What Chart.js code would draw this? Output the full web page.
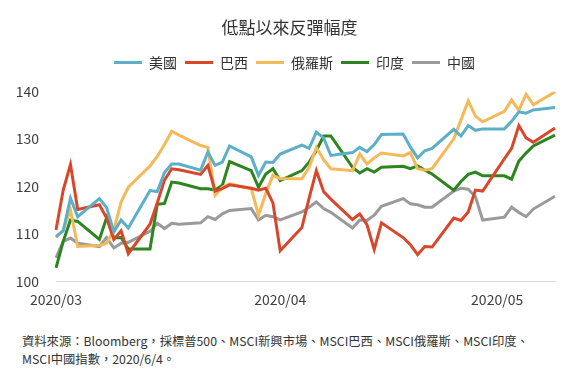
<!DOCTYPE html>
<html>
<head>
<meta charset="utf-8">
<script src="https://cdn.jsdelivr.net/npm/chart.js@4.4.0/dist/chart.umd.min.js"></script>
<style>
    body { margin: 0; background: #fff; width: 576px; height: 376px; overflow: hidden; font-family: "Noto Sans CJK TC", sans-serif; }
    #wrap { position: relative; width: 576px; height: 328px; }
    .note { position: absolute; left: 22px; font-size: 12.3px; color: #333; white-space: nowrap; line-height: 18px; }
</style>
</head>
<body>
<div id="wrap"><canvas id="chartLine" width="576" height="328"></canvas></div>
<div class="note" style="top:332px">資料來源：Bloomberg，採標普500、MSCI新興市場、MSCI巴西、MSCI俄羅斯、MSCI印度、</div>
<div class="note" style="top:350px">MSCI中國指數，2020/6/4。</div>
<script>
// trading days (2020), plotted on a calendar-day axis
var tradingDays = [
    "03/24", "03/25", "03/26", "03/27", "03/30", "03/31",
    "04/01", "04/02", "04/03", "04/06", "04/07", "04/08", "04/09", "04/10",
    "04/13", "04/14", "04/15", "04/16", "04/17", "04/20", "04/21", "04/22", "04/23", "04/24",
    "04/27", "04/28", "04/29", "04/30",
    "05/01", "05/04", "05/05", "05/06", "05/07", "05/08", "05/11", "05/12", "05/13", "05/14", "05/15",
    "05/18", "05/19", "05/20", "05/21", "05/22", "05/25", "05/26", "05/27", "05/28", "05/29",
    "06/01"
];
var tickDays = ["2020/03/24", "2020/04/24", "2020/05/24"];

var seriesNames = ["美國", "巴西", "俄羅斯", "印度", "中國"];

var usa = [109.4, 110.6, 117.5, 113.6, 117.4, 115.5,
    110.4, 112.9, 111.2, 119.1, 118.9, 122.9, 124.7, 124.7,
    123.4, 127.2, 124.4, 125.1, 128.5, 126.2, 122.3, 125.1, 125.0, 126.8,
    128.7, 128.0, 131.4, 130.2,
    126.5, 127.1, 128.2, 127.3, 128.8, 130.9, 131.0, 128.3, 126.0, 127.5, 128.0,
    132.0, 130.6, 132.8, 131.8, 132.1, 132.1, 133.7, 135.7, 135.4, 136.1,
    136.6];
var brazil = [110.8, 119.2, 124.6, 115.1, 116.1, 113.3,
    108.8, 110.6, 105.8, 112.0, 116.5, 121.3, 123.7, 123.5,
    122.5, 124.4, 119.0, 119.5, 120.3, 119.6, 119.2, 119.6, 116.5, 106.4,
    111.3, 117.5, 123.3, 118.9,
    117.3, 113.0, 114.2, 111.9, 106.7, 112.3, 109.2, 107.7, 105.6, 107.3, 107.2,
    113.3, 112.8, 114.6, 119.2, 119.0, 125.8, 128.0, 132.8, 130.2, 129.3,
    132.3];
var russia = [109.2, 110.8, 115.0, 107.3, 107.5, 108.0,
    110.8, 116.7, 119.8, 124.3, 126.3, 128.8, 131.6, 130.8,
    128.6, 128.2, 118.1, 119.8, 120.5, 119.5, 113.9, 118.5, 122.3, 121.6,
    121.6, 124.0, 128.2, 125.6,
    123.7, 123.3, 126.8, 124.7, 126.0, 127.0, 126.4, 127.1, 123.7, 123.4, 123.7,
    130.0, 134.0, 138.0, 134.8, 133.6, 135.8, 138.2, 136.0, 139.4, 137.2,
    139.9];
var india = [102.8, 108.4, 112.9, 112.6, 108.8, 113.4,
    109.1, 109.2, 106.8, 106.8, 116.2, 116.4, 120.9, 120.7,
    119.5, 119.5, 119.2, 120.2, 125.2, 123.3, 119.8, 122.6, 123.7, 121.2,
    123.3, 125.1, 127.5, 130.6,
    130.6, 124.0, 122.8, 123.7, 123.0, 124.0, 124.2, 123.7, 124.3, 123.4, 122.6,
    119.2, 121.0, 122.5, 123.0, 122.2, 122.2, 121.5, 125.3, 127.0, 128.5,
    130.8];
var china = [104.9, 108.4, 109.1, 108.0, 107.3, 109.2,
    107.0, 108.0, 108.2, 110.5, 112.2, 111.1, 112.2, 112.0,
    112.3, 113.6, 113.0, 114.2, 114.9, 115.3, 112.9, 113.9, 113.6, 112.9,
    114.6, 115.6, 116.7, 115.3,
    114.5, 111.2, 112.9, 112.8, 113.9, 115.8, 117.4, 116.3, 116.1, 115.6, 115.6,
    119.0, 119.6, 119.4, 117.8, 112.9, 113.5, 115.6, 114.5, 113.6, 115.2,
    117.9];

var colors = ["#5bafc7", "#d9472b", "#f5b95a", "#2d8520", "#9a9a9a"];

// every calendar day from 2020/03/24 to 2020/06/01
var calendar = [];
for (var t = Date.UTC(2020, 2, 24); t <= Date.UTC(2020, 5, 1); t += 86400000) {
    var d = new Date(t);
    var mm = ("0" + (d.getUTCMonth() + 1)).slice(-2);
    var dd = ("0" + d.getUTCDate()).slice(-2);
    calendar.push("2020/" + mm + "/" + dd);
}

function onCalendar(values) {
    return calendar.map(function (day) {
        var i = tradingDays.indexOf(day.slice(5));
        return i < 0 ? null : values[i];
    });
}

var allSeries = [usa, brazil, russia, india, china];

Chart.defaults.font.family = '"Noto Sans CJK TC", "Noto Sans", sans-serif';
Chart.defaults.color = "#404040";

// extra room under the legend, and nudge title/legend a little right
var headerTweak = {
    id: "headerTweak",
    beforeInit: function (chart) {
        var fit = chart.legend.fit;
        chart.legend.fit = function () {
            fit.bind(chart.legend)();
            this.height += 12;
        };
    },
    afterLayout: function (chart) {
        chart.titleBlock.left += 5;
        chart.titleBlock.right += 5;
        chart.legend.left += 10;
        chart.legend.right += 10;
    }
};

var ourLine = document.getElementById("chartLine");

var lineChart = new Chart(ourLine, {
    type: 'line',
    data: {
        labels: calendar,
        datasets: seriesNames.map(function (name, i) {
            return {
                label: name,
                data: onCalendar(allSeries[i]),
                borderColor: colors[i],
                backgroundColor: colors[i],
                borderWidth: 3,
                pointRadius: 0,
                pointStyle: 'line',
                tension: 0,
                spanGaps: true
            };
        })
    },
    options: {
        responsive: false,
        animation: false,
        layout: {
            padding: { left: 14, right: 21, top: 0, bottom: 10 }
        },
        plugins: {
            title: {
                display: true,
                text: '低點以來反彈幅度',
                color: "#333",
                font: { size: 17, weight: "normal" },
                padding: { top: 17, bottom: 10 }
            },
            legend: {
                display: true,
                position: "top",
                labels: {
                    usePointStyle: true,
                    pointStyle: 'line',
                    pointStyleWidth: 28,
                    padding: 8,
                    color: "#333",
                    font: { size: 14 }
                }
            },
            tooltip: { enabled: false }
        },
        scales: {
            x: {
                grid: { display: false, drawTicks: false },
                border: { display: true, color: "#d9d9d9", width: 1 },
                afterFit: function (scale) {
                    scale.paddingLeft = 0;
                    scale.paddingRight = 0;
                },
                ticks: {
                    autoSkip: false,
                    maxRotation: 0,
                    minRotation: 0,
                    padding: 10,
                    font: { size: 14 },
                    callback: function (value, index) {
                        var day = calendar[index];
                        return tickDays.indexOf(day) >= 0 ? day.slice(0, 7) : '';
                    }
                }
            },
            y: {
                min: 100,
                max: 140,
                grid: { display: false, drawTicks: false },
                border: { display: false },
                afterFit: function (scale) {
                    scale.width = 42;
                },
                ticks: {
                    stepSize: 10,
                    padding: 17,
                    font: { size: 14 }
                }
            }
        }
    },
    plugins: [headerTweak]
});
</script>
</body>
</html>
